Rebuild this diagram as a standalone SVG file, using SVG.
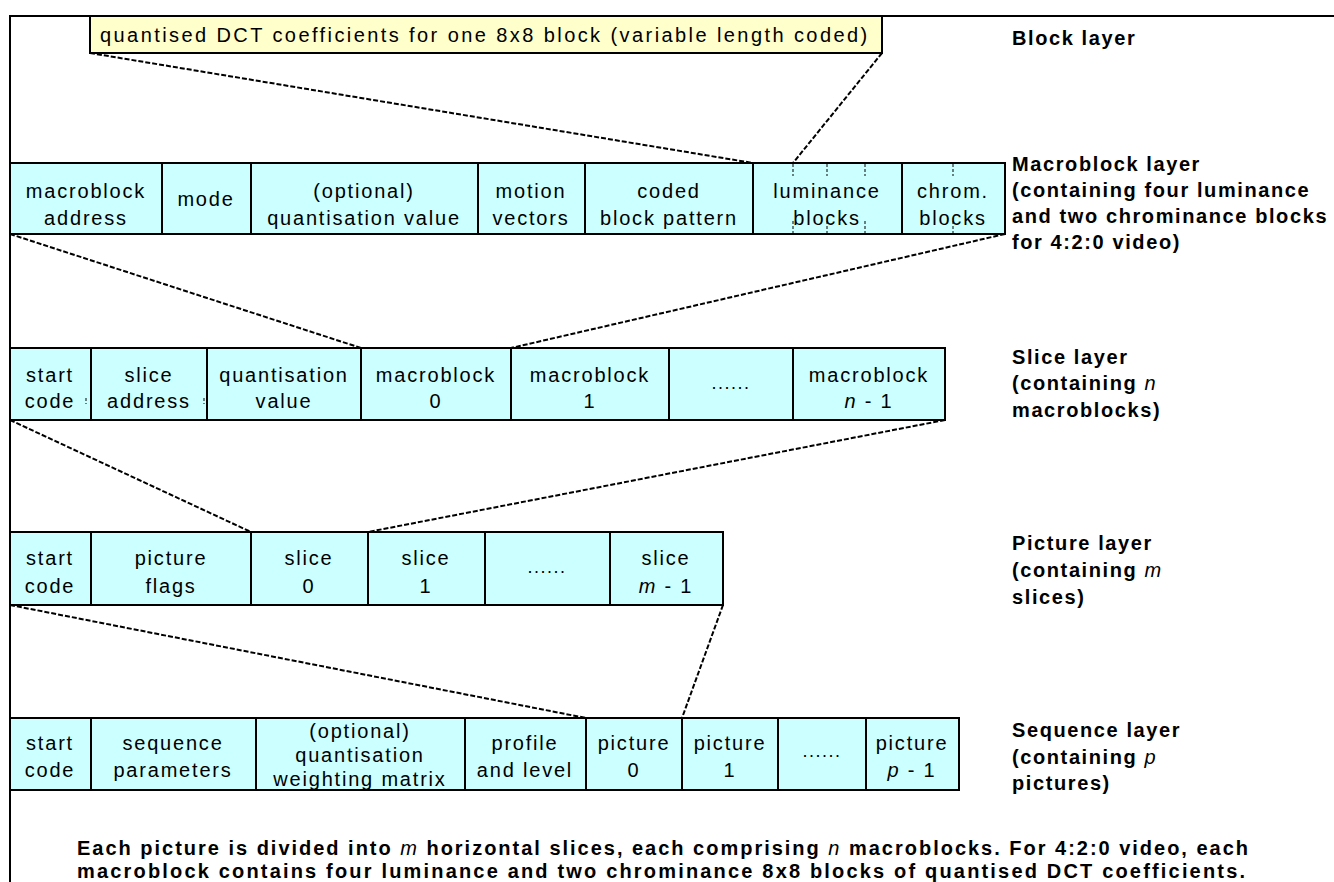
<svg xmlns="http://www.w3.org/2000/svg" width="1334" height="882" viewBox="0 0 1334 882">
<style>
  .bg{fill:#ffffff}
  .frame{stroke:#000;stroke-width:2;fill:none}
  .cell{fill:#ccffff;stroke:#000;stroke-width:2}
  .blk{fill:#ffffcc;stroke:#000;stroke-width:2}
  .t{font-family:"Liberation Sans",Arial,sans-serif;font-size:20px;letter-spacing:1.8px;fill:#000;text-anchor:middle}
  .dots{font-family:"Liberation Sans",Arial,sans-serif;font-size:18px;letter-spacing:1.5px;fill:#000;text-anchor:middle}
  .lab{font-family:"Liberation Sans",Arial,sans-serif;font-size:20px;font-weight:bold;letter-spacing:1.6px;fill:#000}
  .cap{font-family:"Liberation Sans",Arial,sans-serif;font-size:20px;font-weight:bold;fill:#000}
  .it{font-style:italic;font-weight:normal}
  .conn{stroke:#000;stroke-width:2;stroke-dasharray:5 2;fill:none}
  .tick{stroke:#000;stroke-width:1;stroke-dasharray:3 2;fill:none}
</style>
<rect class="bg" x="0" y="0" width="1334" height="882"/>
<g id="frame">
  <path class="frame" d="M10,882 V16 H1334"/>
</g>

<g id="block-layer">
  <rect class="blk" x="90" y="16" width="792" height="37"/>
  <text class="t" x="100" y="42" style="text-anchor:start" textLength="769" lengthAdjust="spacing">quantised DCT coefficients for one 8x8 block (variable length coded)</text>
</g>

<g id="macroblock-layer">
  <rect class="cell" x="10" y="163" width="152" height="71"/>
  <rect class="cell" x="162" y="163" width="89" height="71"/>
  <rect class="cell" x="251" y="163" width="227" height="71"/>
  <rect class="cell" x="478" y="163" width="107" height="71"/>
  <rect class="cell" x="585" y="163" width="168" height="71"/>
  <rect class="cell" x="753" y="163" width="149" height="71"/>
  <rect class="cell" x="902" y="163" width="103" height="71"/>
  <path class="tick" d="M793,164 V176 M827,164 V176 M865,164 V176 M953,164 V176 M793,221 V233 M827,221 V233 M865,221 V233 M953,221 V233"/>
  <text class="t" x="86" y="198">macroblock</text><text class="t" x="86" y="225">address</text>
  <text class="t" x="206" y="206">mode</text>
  <text class="t" x="364" y="198">(optional)</text><text class="t" x="364" y="225">quantisation value</text>
  <text class="t" x="531" y="198">motion</text><text class="t" x="531" y="225">vectors</text>
  <text class="t" x="669" y="198">coded</text><text class="t" x="669" y="225">block pattern</text>
  <text class="t" x="827" y="198">luminance</text><text class="t" x="827" y="225">blocks</text>
  <text class="t" x="953" y="198">chrom.</text><text class="t" x="953" y="225">blocks</text>
</g>

<g id="slice-layer">
  <rect class="cell" x="10" y="348" width="81" height="72"/>
  <rect class="cell" x="91" y="348" width="116" height="72"/>
  <rect class="cell" x="207" y="348" width="154" height="72"/>
  <rect class="cell" x="361" y="348" width="150" height="72"/>
  <rect class="cell" x="511" y="348" width="158" height="72"/>
  <rect class="cell" x="669" y="348" width="124" height="72"/>
  <rect class="cell" x="793" y="348" width="152" height="72"/>
  <path class="tick" d="M86,398 V404 M204,398 V404"/>
  <text class="t" x="50" y="382">start</text><text class="t" x="50" y="408">code</text>
  <text class="t" x="149" y="382">slice</text><text class="t" x="149" y="408">address</text>
  <text class="t" x="284" y="382">quantisation</text><text class="t" x="284" y="408">value</text>
  <text class="t" x="436" y="382">macroblock</text><text class="t" x="436" y="408">0</text>
  <text class="t" x="590" y="382">macroblock</text><text class="t" x="590" y="408">1</text>
  <text class="dots" x="731" y="389">......</text>
  <text class="t" x="869" y="382">macroblock</text><text class="t" x="869" y="408"><tspan class="it">n</tspan> - 1</text>
</g>

<g id="picture-layer">
  <rect class="cell" x="10" y="532" width="81" height="73"/>
  <rect class="cell" x="91" y="532" width="160" height="73"/>
  <rect class="cell" x="251" y="532" width="117" height="73"/>
  <rect class="cell" x="368" y="532" width="117" height="73"/>
  <rect class="cell" x="485" y="532" width="125" height="73"/>
  <rect class="cell" x="610" y="532" width="113" height="73"/>
  <text class="t" x="50" y="565">start</text><text class="t" x="50" y="593">code</text>
  <text class="t" x="171" y="565">picture</text><text class="t" x="171" y="593">flags</text>
  <text class="t" x="309" y="565">slice</text><text class="t" x="309" y="593">0</text>
  <text class="t" x="426" y="565">slice</text><text class="t" x="426" y="593">1</text>
  <text class="dots" x="547" y="573">......</text>
  <text class="t" x="666" y="565">slice</text><text class="t" x="666" y="593"><tspan class="it">m</tspan> - 1</text>
</g>

<g id="sequence-layer">
  <rect class="cell" x="10" y="718" width="81" height="72"/>
  <rect class="cell" x="91" y="718" width="165" height="72"/>
  <rect class="cell" x="256" y="718" width="209" height="72"/>
  <rect class="cell" x="465" y="718" width="121" height="72"/>
  <rect class="cell" x="586" y="718" width="96" height="72"/>
  <rect class="cell" x="682" y="718" width="96" height="72"/>
  <rect class="cell" x="778" y="718" width="88" height="72"/>
  <rect class="cell" x="866" y="718" width="93" height="72"/>
  <text class="t" x="50" y="750">start</text><text class="t" x="50" y="777">code</text>
  <text class="t" x="173" y="750">sequence</text><text class="t" x="173" y="777">parameters</text>
  <text class="t" x="360" y="738">(optional)</text><text class="t" x="360" y="762">quantisation</text><text class="t" x="360" y="786">weighting matrix</text>
  <text class="t" x="525" y="750">profile</text><text class="t" x="525" y="777">and level</text>
  <text class="t" x="634" y="750">picture</text><text class="t" x="634" y="777">0</text>
  <text class="t" x="730" y="750">picture</text><text class="t" x="730" y="777">1</text>
  <text class="dots" x="822" y="757">......</text>
  <text class="t" x="912" y="750">picture</text><text class="t" x="912" y="777"><tspan class="it">p</tspan> - 1</text>
</g>

<g id="connectors">
  <line class="conn" x1="90" y1="53" x2="753" y2="163"/>
  <line class="conn" x1="882" y1="53" x2="793" y2="163"/>
  <line class="conn" x1="10" y1="234" x2="361" y2="348"/>
  <line class="conn" x1="1005" y1="234" x2="511" y2="348"/>
  <line class="conn" x1="10" y1="420" x2="251" y2="532"/>
  <line class="conn" x1="945" y1="420" x2="368" y2="532"/>
  <line class="conn" x1="10" y1="605" x2="586" y2="718"/>
  <line class="conn" x1="723" y1="605" x2="682" y2="718"/>
</g>

<g id="labels">
  <text class="lab" x="1012" y="45">Block layer</text>
  <text class="lab" x="1012" y="171">Macroblock layer</text>
  <text class="lab" x="1012" y="197">(containing four luminance</text>
  <text class="lab" x="1012" y="223">and two chrominance blocks</text>
  <text class="lab" x="1012" y="249">for 4:2:0 video)</text>
  <text class="lab" x="1012" y="364">Slice layer</text>
  <text class="lab" x="1012" y="390">(containing <tspan class="it">n</tspan></text>
  <text class="lab" x="1012" y="417">macroblocks)</text>
  <text class="lab" x="1012" y="550">Picture layer</text>
  <text class="lab" x="1012" y="577">(containing <tspan class="it">m</tspan></text>
  <text class="lab" x="1012" y="604">slices)</text>
  <text class="lab" x="1012" y="737">Sequence layer</text>
  <text class="lab" x="1012" y="764">(containing <tspan class="it">p</tspan></text>
  <text class="lab" x="1012" y="790">pictures)</text>
</g>

<g id="caption">
  <text class="cap" x="77" y="855" textLength="1171" lengthAdjust="spacing">Each picture is divided into <tspan class="it">m</tspan> horizontal slices, each comprising <tspan class="it">n</tspan> macroblocks. For 4:2:0 video, each</text>
  <text class="cap" x="77" y="878" textLength="1168" lengthAdjust="spacing">macroblock contains four luminance and two chrominance 8x8 blocks of quantised DCT coefficients.</text>
</g>
</svg>
